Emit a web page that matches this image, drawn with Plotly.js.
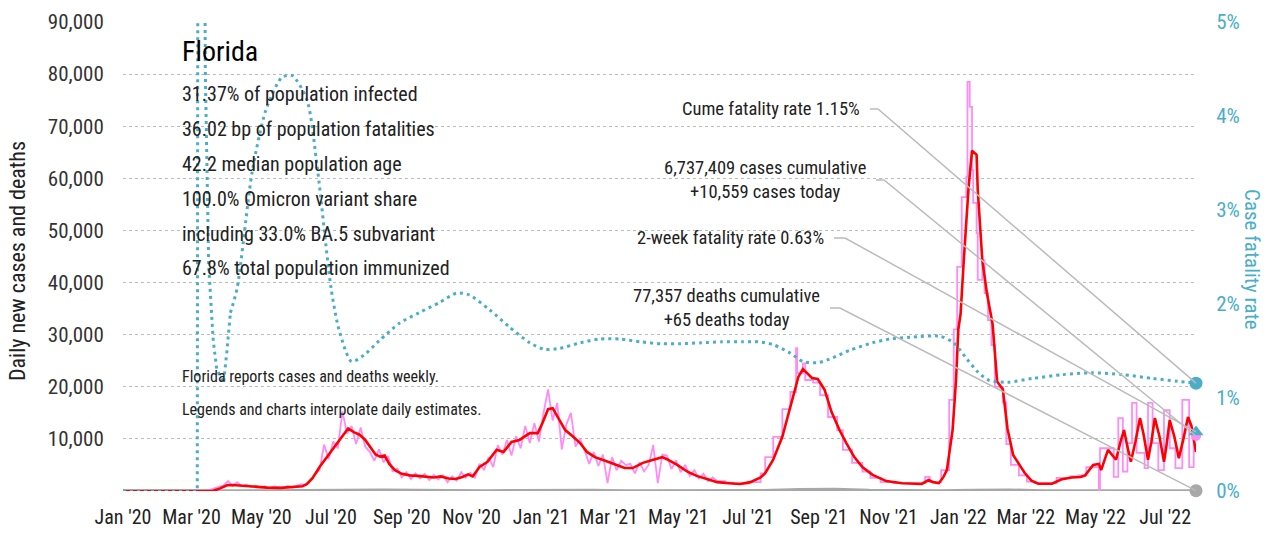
<!DOCTYPE html>
<html><head><meta charset="utf-8">
<script src="https://cdn.plot.ly/plotly-3.0.1.min.js"></script>
<style>html,body{margin:0;padding:0;background:#fff;}#chart{width:1281px;height:534px;}</style>
</head><body><div id="chart"></div>
<script>
// ---------------- DATA ----------------
const stateName = 'Florida';
const statLines = ['31.37% of population infected','36.02 bp of population fatalities','42.2 median population age','100.0% Omicron variant share','including 33.0% BA.5 subvariant','67.8% total population immunized'];
const noteLines = ['Florida reports cases and deaths weekly.','Legends and charts interpolate daily estimates.'];
const lastDate = '2022-07-28';
const cumCases = 6737409, casesToday = 10559, cumDeaths = 77357, deathsToday = 65;
const cumeCFR = 1.15, twoWeekCFR = 0.63;

// 7-day average of new cases (red)
const avgDates = ['2020-01-01','2020-03-10','2020-03-20','2020-03-26','2020-04-01','2020-04-06','2020-04-14','2020-04-24','2020-05-06','2020-05-18','2020-05-30','2020-06-06','2020-06-10','2020-06-15','2020-06-21','2020-06-30','2020-07-07','2020-07-13','2020-07-16','2020-07-21','2020-07-26','2020-07-31','2020-08-05','2020-08-09','2020-08-13','2020-08-17','2020-08-21','2020-08-26','2020-09-01','2020-09-08','2020-09-15','2020-09-22','2020-09-29','2020-10-05','2020-10-12','2020-10-18','2020-10-24','2020-10-29','2020-11-02','2020-11-08','2020-11-15','2020-11-23','2020-11-29','2020-12-06','2020-12-13','2020-12-22','2020-12-29','2021-01-02','2021-01-07','2021-01-11','2021-01-17','2021-01-22','2021-01-29','2021-02-04','2021-02-10','2021-02-17','2021-02-26','2021-03-08','2021-03-15','2021-03-22','2021-03-31','2021-04-09','2021-04-17','2021-04-21','2021-04-30','2021-05-09','2021-05-17','2021-05-26','2021-06-04','2021-06-14','2021-06-24','2021-07-03','2021-07-12','2021-07-16','2021-07-23','2021-07-31','2021-08-07','2021-08-11','2021-08-14','2021-08-18','2021-08-22','2021-08-26','2021-08-31','2021-09-06','2021-09-12','2021-09-19','2021-09-25','2021-10-02','2021-10-09','2021-10-18','2021-10-30','2021-11-13','2021-11-30','2021-12-06','2021-12-10','2021-12-15','2021-12-19','2021-12-22','2021-12-27','2021-12-30','2022-01-01','2022-01-03','2022-01-06','2022-01-10','2022-01-13','2022-01-17','2022-01-18','2022-01-22','2022-01-26','2022-01-31','2022-02-04','2022-02-09','2022-02-13','2022-02-18','2022-02-23','2022-02-28','2022-03-06','2022-03-12','2022-03-24','2022-04-01','2022-04-10','2022-04-18','2022-04-22','2022-04-29','2022-05-04','2022-05-06','2022-05-12','2022-05-16','2022-05-19','2022-05-23','2022-05-26','2022-05-29','2022-06-01','2022-06-05','2022-06-09','2022-06-12','2022-06-16','2022-06-19','2022-06-22','2022-06-26','2022-06-30','2022-07-02','2022-07-05','2022-07-09','2022-07-13','2022-07-17','2022-07-21','2022-07-24','2022-07-28'];
const avgCases = [0,0,50,500,1100,1150,1000,850,650,600,750,900,1350,2500,4600,7300,9400,11300,12000,11300,10800,9800,8200,7000,6600,6800,5200,4000,3300,3000,2900,2700,2600,2800,2400,2300,2700,3200,2800,4600,5600,7900,7500,9400,9800,11100,11100,13000,15700,15900,13600,11700,10400,9200,7500,6500,5800,5000,4400,4400,5400,6000,6500,6100,5000,3700,2900,2300,1700,1500,1350,1700,2600,3400,6000,10400,15900,19400,21900,23400,22600,21700,21500,19400,15200,11700,9200,6500,4600,3100,1900,1500,1350,2100,1700,1500,2700,4000,11700,21300,31000,34000,45000,58300,65300,64500,57800,44300,38000,32000,21000,19500,12000,6900,5200,3500,2000,1400,1400,2200,2600,2700,3000,5000,5200,4000,7900,6900,6000,9500,11700,8500,5600,9500,14000,11000,6000,9500,14000,10500,5600,8500,13600,10500,6300,10000,14200,12500,7500];

// Daily reported cases while Florida reported daily (pink), one value every 4 days from 2020-03-01
const dailyStart = '2020-03-01';
const dailyCases = [0,2,10,40,200,500,800,1100,1900,1000,1700,900,1200,800,1000,700,900,600,900,750,600,950,650,1000,1300,1100,2000,3200,4000,8900,6100,9500,8200,15300,11000,12500,9000,12200,8500,7500,5800,8000,5500,6700,3800,4300,2600,3600,2300,3400,2400,3300,2100,3100,2200,3000,1700,2800,2000,3600,2500,3500,2600,5200,4000,6500,4600,8800,7000,9800,6800,10500,8200,12500,9200,13000,9500,15000,19500,13500,16900,8000,12800,15000,8500,10000,7800,5200,7500,4800,7000,1500,6500,4000,5800,5000,5200,3400,5500,3800,5000,8800,1500,7000,6800,4200,5900,3600,5000,2900,4000,2400,3300,1900,2600,1900];

// Weekly / biweekly reported cases spread over days (pink steps)
const stepDates = ['2021-06-04','2021-06-11','2021-06-18','2021-06-25','2021-07-02','2021-07-12','2021-07-16','2021-07-23','2021-07-31','2021-08-07','2021-08-12','2021-08-13','2021-08-18','2021-08-20','2021-08-27','2021-09-02','2021-09-09','2021-09-17','2021-09-22','2021-09-30','2021-10-09','2021-10-16','2021-10-25','2021-11-05','2021-12-03','2021-12-07','2021-12-17','2021-12-24','2021-12-28','2021-12-31','2022-01-04','2022-01-08','2022-01-09','2022-01-11','2022-01-13','2022-01-14','2022-01-17','2022-01-18','2022-01-22','2022-01-24','2022-01-27','2022-01-30','2022-02-02','2022-02-09','2022-02-12','2022-02-16','2022-02-23','2022-03-02','2022-03-09','2022-03-28','2022-04-09','2022-04-16','2022-04-23','2022-05-04','2022-05-05','2022-05-17','2022-05-21','2022-05-25','2022-05-29','2022-06-02','2022-06-06','2022-06-13','2022-06-16','2022-06-20','2022-06-25','2022-06-30','2022-07-05','2022-07-10','2022-07-16','2022-07-22','2022-07-26','2022-07-28'];
const stepCases = [1900,1600,1450,1400,1700,3400,6500,10400,15700,19000,27400,22600,24500,21300,20800,18400,14200,11700,7900,5400,3700,2500,1700,1500,2700,1700,4000,17500,31000,43000,56400,60300,78500,73700,61600,55300,49500,40500,44300,38000,32800,28000,20000,17000,9000,5000,3000,1800,1500,2500,2800,3000,4600,200,8200,2700,14000,3700,9200,16900,7300,4400,16900,9200,4000,15500,8200,4400,17500,4600,10400,10400];

// Daily deaths (gray)
const deathDates = ['2020-01-01','2020-03-10','2020-04-15','2020-05-15','2020-06-15','2020-07-15','2020-08-15','2020-09-15','2020-10-15','2020-11-15','2020-12-15','2021-01-15','2021-02-15','2021-03-15','2021-04-15','2021-05-15','2021-06-15','2021-07-15','2021-08-15','2021-09-15','2021-10-15','2021-11-15','2021-12-15','2022-01-15','2022-02-15','2022-03-15','2022-04-15','2022-05-15','2022-06-15','2022-07-15','2022-07-28'];
const deathValues = [0,0,50,45,40,120,170,110,70,60,100,160,140,70,60,50,40,80,300,350,120,40,30,150,200,60,30,25,40,50,65];

// Case fatality rate, % (teal dotted, right axis)
const cfrDates = ['2020-01-01','2020-03-06','2020-03-07','2020-03-11','2020-03-13','2020-03-16','2020-03-20','2020-03-23','2020-03-27','2020-03-29','2020-04-01','2020-04-04','2020-04-10','2020-04-23','2020-05-05','2020-05-19','2020-05-28','2020-06-10','2020-06-19','2020-07-01','2020-07-08','2020-07-19','2020-07-30','2020-08-12','2020-08-30','2020-09-16','2020-10-04','2020-10-19','2020-10-30','2020-11-17','2020-12-04','2020-12-22','2021-01-04','2021-01-17','2021-02-04','2021-02-21','2021-03-11','2021-03-29','2021-04-16','2021-05-03','2021-05-21','2021-06-08','2021-06-26','2021-07-10','2021-07-23','2021-08-07','2021-08-18','2021-09-01','2021-09-13','2021-09-28','2021-10-18','2021-11-02','2021-11-20','2021-12-16','2021-12-28','2022-01-09','2022-01-18','2022-01-28','2022-02-13','2022-03-07','2022-04-02','2022-04-28','2022-05-25','2022-06-20','2022-07-12','2022-07-28'];
const cfrValues = [0,0,12,12,4.5,2.4,1.6,1.3,1.2,1.15,1.5,1.9,2.17,3.4,4.06,4.41,4.43,4.17,3.45,2.17,1.72,1.38,1.45,1.6,1.79,1.9,2.01,2.11,2.09,1.93,1.75,1.58,1.51,1.52,1.58,1.62,1.62,1.59,1.57,1.57,1.58,1.59,1.59,1.59,1.56,1.47,1.38,1.37,1.42,1.5,1.58,1.62,1.64,1.65,1.58,1.40,1.27,1.18,1.16,1.20,1.24,1.26,1.24,1.20,1.17,1.15];
const cfrSmoothFrom = '2020-04-04';   // before this date the early spike is drawn straight

// Axis ticks
const leftTicks = [10000,20000,30000,40000,50000,60000,70000,80000,90000];
const rightTicks = [0,1,2,3,4,5];
const rightTickText = ['0%','1%','2%','3%','4%','5%'];

// ---------------- STYLE / LAYOUT ----------------
const FONT = "'Liberation Sans Narrow','Roboto Condensed','DejaVu Sans Condensed',sans-serif";
const W = 1281, H = 534, ML = 123, MR = 85, MT = 22, MB = 43;
const PW = W - ML - MR, PH = H - MT - MB;
const px = x => (x - ML) / PW;
const py = y => (H - MB - y) / PH;
const Y1MAX = 90000, Y2MAX = 5;
const TEAL = '#4aaec8', PINK = '#ff8cf6', RED = '#ff0000', GRAY = '#a8a8a8', INK = '#222222';

function addDays(s, n) {
  const d = new Date(s + 'T00:00:00Z'); d.setUTCDate(d.getUTCDate() + n);
  return d.toISOString().slice(0, 10);
}
const dailyDates = dailyCases.map((_, i) => addDays(dailyStart, 4 * i));
const split = cfrDates.indexOf(cfrSmoothFrom);

const teal = {color: TEAL, width: 3, dash: '3px,4px'};
const traces = [
  {x: deathDates, y: deathValues, type: 'scatter', mode: 'lines', line: {color: GRAY, width: 3}, hoverinfo: 'skip'},
  {x: dailyDates, y: dailyCases, type: 'scatter', mode: 'lines', line: {color: PINK, width: 1.8}, hoverinfo: 'skip'},
  {x: stepDates, y: stepCases, type: 'scatter', mode: 'lines', line: {color: PINK, width: 1.8, shape: 'hv'}, hoverinfo: 'skip'},
  {x: avgDates, y: avgCases, type: 'scatter', mode: 'lines', line: {color: RED, width: 2.6}, hoverinfo: 'skip'},
  {x: cfrDates.slice(0, split + 1), y: cfrValues.slice(0, split + 1), yaxis: 'y2', type: 'scatter', mode: 'lines', line: teal, hoverinfo: 'skip'},
  {x: cfrDates.slice(split), y: cfrValues.slice(split), yaxis: 'y2', type: 'scatter', mode: 'lines', line: Object.assign({shape: 'spline', smoothing: 0.7}, teal), hoverinfo: 'skip'},
  {x: [lastDate], y: [casesToday], type: 'scatter', mode: 'markers', marker: {color: PINK, size: 10}, cliponaxis: false, hoverinfo: 'skip'},
  {x: [lastDate], y: [deathsToday], type: 'scatter', mode: 'markers', marker: {color: GRAY, size: 13}, cliponaxis: false, hoverinfo: 'skip'},
  {x: [lastDate], y: [twoWeekCFR], yaxis: 'y2', type: 'scatter', mode: 'markers', marker: {color: TEAL, size: 13, symbol: 'triangle-up'}, cliponaxis: false, hoverinfo: 'skip'},
  {x: [lastDate], y: [cumeCFR], yaxis: 'y2', type: 'scatter', mode: 'markers', marker: {color: TEAL, size: 13}, cliponaxis: false, hoverinfo: 'skip'}
];

const fmt = n => n.toLocaleString('en-US');
const ann = [];
ann.push({text: stateName, x: px(180), y: py(52), xref: 'paper', yref: 'paper', xanchor: 'left', yanchor: 'middle', showarrow: false, font: {family: FONT, size: 28, color: '#000'}});
const statY = [94, 129, 164, 199, 234, 268];
statLines.forEach((t, i) => ann.push({text: t, x: px(180), y: py(statY[i]), xref: 'paper', yref: 'paper', xanchor: 'left', yanchor: 'middle', showarrow: false, font: {family: FONT, size: 20, color: INK}}));
const noteY = [376, 409];
noteLines.forEach((t, i) => ann.push({text: t, x: px(180), y: py(noteY[i]), xref: 'paper', yref: 'paper', xanchor: 'left', yanchor: 'middle', showarrow: false, font: {family: FONT, size: 16, color: INK}}));

// right-hand callouts: [text, right edge px, centre y px, stub start px, stub end px, end y (paper)]
const callouts = [
  ['Cume fatality rate ' + cumeCFR.toFixed(2) + '%', 862, 109, 870, 878, cumeCFR / Y2MAX],
  [fmt(cumCases) + ' cases cumulative<br>+' + fmt(casesToday) + ' cases today', 868, 180, 876, 884, casesToday / Y1MAX],
  ['2-week fatality rate ' + twoWeekCFR.toFixed(2) + '%', 826, 238, 834, 845, twoWeekCFR / Y2MAX],
  [fmt(cumDeaths) + ' deaths cumulative<br>+' + deathsToday + ' deaths today', 822, 308, 830, 840, deathsToday / Y1MAX]
];
const shapes = [];
callouts.forEach(c => {
  ann.push({text: c[0], x: px(c[1]), y: py(c[2]), xref: 'paper', yref: 'paper', xanchor: 'right', yanchor: 'middle', align: 'center', showarrow: false, font: {family: FONT, size: 18.5, color: INK}});
  shapes.push({type: 'path', xref: 'paper', yref: 'paper', layer: 'above',
    path: `M ${px(c[3])} ${py(c[2])} L ${px(c[4])} ${py(c[2])} L 1 ${c[5]}`,
    line: {color: '#bbbbbb', width: 1.5}});
});
ann.push({text: 'Daily new cases and deaths', x: px(17), y: py(261), xref: 'paper', yref: 'paper', xanchor: 'center', yanchor: 'middle', textangle: -90, showarrow: false, font: {family: FONT, size: 22, color: INK}});
ann.push({text: 'Case fatality rate', x: px(1252), y: py(259), xref: 'paper', yref: 'paper', xanchor: 'center', yanchor: 'middle', textangle: 90, showarrow: false, font: {family: FONT, size: 21, color: TEAL}});

const layout = {
  width: W, height: H, margin: {l: ML, r: MR, t: MT, b: MB, pad: 0},
  paper_bgcolor: '#fff', plot_bgcolor: '#fff', showlegend: false,
  font: {family: FONT, color: INK},
  xaxis: {type: 'date', range: ['2020-01-01', lastDate], tick0: '2020-01-01', dtick: 'M2', tickformat: "%b '%y",
    showgrid: false, zeroline: false, showline: false, ticks: 'outside', ticklen: 8, tickcolor: 'rgba(0,0,0,0)',
    tickfont: {family: FONT, size: 20, color: INK}, fixedrange: true},
  yaxis: {range: [0, Y1MAX], tickvals: leftTicks, tickformat: ',d', showgrid: true, gridcolor: '#bbbbbb', griddash: 'dot', gridwidth: 1,
    zeroline: false, showline: false, ticks: 'outside', ticklen: 14, tickcolor: 'rgba(0,0,0,0)',
    tickfont: {family: FONT, size: 21, color: '#333'}, fixedrange: true},
  yaxis2: {range: [0, Y2MAX], overlaying: 'y', side: 'right', tickvals: rightTicks, ticktext: rightTickText, showgrid: false, zeroline: false,
    showline: false, ticks: 'outside', ticklen: 15, tickcolor: 'rgba(0,0,0,0)',
    tickfont: {family: FONT, size: 21, color: TEAL}, fixedrange: true},
  annotations: ann, shapes: shapes
};
Plotly.newPlot('chart', traces, layout, {staticPlot: true, displayModeBar: false});
</script></body></html>
